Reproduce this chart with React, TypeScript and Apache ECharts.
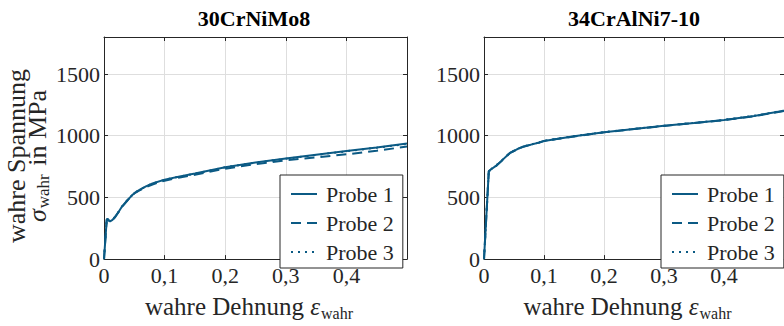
import React, { useEffect, useRef } from "react";
import * as echarts from "echarts";

// ---- data ----
const titles = ["30CrNiMo8", "34CrAlNi7-10"];
const probeNames = ["Probe 1", "Probe 2", "Probe 3"];
const yTicks = [0, 500, 1000, 1500];
const xTicks = [0, 0.1, 0.2, 0.3, 0.4];

const strainA = [0, 0.0045, 0.006, 0.008, 0.01, 0.014, 0.018, 0.025, 0.03, 0.04, 0.05, 0.06, 0.07, 0.08, 0.1, 0.125, 0.15, 0.2, 0.25, 0.3, 0.35, 0.4, 0.45, 0.5];
const stressA1 = [0, 320, 326, 312, 306, 318, 340, 390, 428, 485, 535, 566, 592, 613, 644, 670, 693, 745, 783, 815, 846, 877, 905, 937];
const stressA2 = [0, 318, 324, 310, 305, 317, 338, 388, 425, 482, 532, 560, 585, 605, 635, 662, 683, 733, 770, 800, 825, 849, 878, 912];
const stressA3 = [0, 322, 327, 313, 307, 319, 341, 391, 429, 486, 536, 565, 591, 612, 643, 669, 692, 744, 782, 813, 844, 874, 903, 934];

const strainB = [0, 0.008, 0.012, 0.021, 0.03, 0.043, 0.055, 0.065, 0.08, 0.092, 0.1, 0.15, 0.2, 0.25, 0.3, 0.35, 0.4, 0.45, 0.5];
const stressB1 = [0, 713, 728, 760, 800, 860, 890, 911, 930, 945, 958, 995, 1028, 1055, 1080, 1103, 1127, 1160, 1203];
const stressB2 = [0, 711, 727, 758, 798, 858, 889, 910, 929, 944, 957, 994, 1027, 1054, 1079, 1102, 1126, 1158, 1200];
const stressB3 = [0, 715, 730, 762, 802, 861, 891, 912, 931, 946, 959, 996, 1029, 1056, 1081, 1104, 1128, 1161, 1204];

const LINE = "#0b5a84";
const INK = "#262626";
const GRID = "#dedede";
const SERIF = "'Liberation Serif', 'Times New Roman', serif";

const zip = (xs: number[], ys: number[]) => xs.map((x, i) => [x, ys[i]]);

export default function App() {
  const ref = useRef<HTMLDivElement>(null);
  useEffect(() => {
    if (!ref.current) return;
    const chart = echarts.init(ref.current, null, { renderer: "svg" });

    const grids = [
      { left: 104, top: 37, width: 303, height: 236 },
      { left: 484, top: 37, width: 303, height: 236 },
    ];

    const xAxes: any[] = [];
    const yAxes: any[] = [];
    grids.forEach((_, g) => {
      xAxes.push({
        type: "value",
        gridIndex: g,
        min: 0,
        max: 0.5,
        interval: 0.1,
        position: "bottom",
        axisLine: { show: true, onZero: false, lineStyle: { color: INK, width: 1 } },
        axisTick: { show: true, inside: true, length: 4, lineStyle: { color: INK } },
        splitLine: { show: true, lineStyle: { color: GRID, width: 1 } },
        axisLabel: {
          color: INK,
          fontFamily: SERIF,
          fontSize: 22,
          margin: 5,
          showMaxLabel: false,
          formatter: (v: number) =>
            xTicks.some((t) => Math.abs(t - v) < 1e-9) ? String(Math.round(v * 10) / 10).replace(".", ",") : "",
        },
        name: "{a|wahre Dehnung }{e|ε}{s|wahr}",
        nameLocation: "middle",
        nameGap: 25,
        nameTextStyle: {
          padding: [0, 13, 0, 0],
          rich: {
            a: { fontFamily: SERIF, fontSize: 25, color: INK, lineHeight: 24 },
            e: { fontFamily: SERIF, fontSize: 25, fontStyle: "italic", color: INK, lineHeight: 24 },
            s: { fontFamily: SERIF, fontSize: 16, color: INK, lineHeight: 10, padding: [14, 0, 0, 1] },
          },
        },
      });
      xAxes.push({
        type: "value",
        gridIndex: g,
        min: 0,
        max: 0.5,
        interval: 0.1,
        position: "top",
        axisLine: { show: true, onZero: false, lineStyle: { color: INK, width: 1 } },
        axisTick: { show: true, inside: true, length: 4, lineStyle: { color: INK } },
        splitLine: { show: false },
        axisLabel: { show: false },
      });
      yAxes.push({
        type: "value",
        gridIndex: g,
        min: 0,
        max: 1800,
        interval: 500,
        position: "left",
        axisLine: { show: true, onZero: false, lineStyle: { color: INK, width: 1 } },
        axisTick: { show: true, inside: true, length: 4, lineStyle: { color: INK } },
        splitLine: { show: true, lineStyle: { color: GRID, width: 1 } },
        axisLabel: {
          color: INK,
          fontFamily: SERIF,
          fontSize: 22,
          margin: 4,
          showMaxLabel: false,
          formatter: (v: number) => (yTicks.includes(v) ? String(v) : ""),
        },
        ...(g === 0
          ? {
              name: "{a|wahre Spannung}\n{e|σ}{s|wahr}{a| in MPa}",
              nameLocation: "middle",
              nameRotate: 90,
              nameGap: 51,
              nameTextStyle: {
                padding: [0, 16, 0, 0],
                rich: {
                  a: { fontFamily: SERIF, fontSize: 26, color: INK, lineHeight: 21 },
                  e: { fontFamily: SERIF, fontSize: 26, fontStyle: "italic", color: INK, lineHeight: 21 },
                  s: { fontFamily: SERIF, fontSize: 17, color: INK, lineHeight: 9, padding: [12, 2, 0, 1] },
                },
              },
            }
          : {}),
      });
      yAxes.push({
        type: "value",
        gridIndex: g,
        min: 0,
        max: 1800,
        interval: 500,
        position: "right",
        axisLine: { show: true, onZero: false, lineStyle: { color: INK, width: 1 } },
        axisTick: { show: true, inside: true, length: 4, lineStyle: { color: INK } },
        splitLine: { show: false },
        axisLabel: { show: false },
      });
    });

    const dash = [{ type: "solid" }, { type: [10, 6] }, { type: [2, 5] }];
    const dataSets = [
      [zip(strainA, stressA1), zip(strainA, stressA2), zip(strainA, stressA3)],
      [zip(strainB, stressB1), zip(strainB, stressB2), zip(strainB, stressB3)],
    ];
    const series: any[] = [];
    dataSets.forEach((sets, g) => {
      sets.forEach((d, i) => {
        series.push({
          type: "line",
          name: probeNames[i],
          xAxisIndex: g * 2,
          yAxisIndex: g * 2,
          data: d,
          symbol: "none",
          showSymbol: false,
          clip: true,
          z: 3 - i,
          lineStyle: { color: LINE, width: 2, ...dash[i] },
          itemStyle: { color: LINE },
        });
      });
    });

    const legendBase = {
      orient: "vertical",
      top: 175,
      data: probeNames,
      itemWidth: 26,
      itemHeight: 14,
      itemGap: 7,
      padding: [8, 9, 5, 10],
      borderColor: INK,
      borderWidth: 1,
      borderRadius: 0,
      backgroundColor: "#ffffff",
      selectedMode: false,
      itemStyle: { opacity: 0 },
      formatter: (n: string) => `{p|${n}}`,
      textStyle: {
        fontFamily: SERIF,
        fontSize: 22,
        color: INK,
        lineHeight: 22,
        rich: { p: { fontFamily: SERIF, fontSize: 22, color: INK, lineHeight: 22, padding: [0, 0, 0, 4] } },
      },
    };

    const titleStyle = { fontFamily: SERIF, fontWeight: "bold", fontSize: 22, color: "#000", lineHeight: 22 };

    chart.setOption({
      animation: false,
      backgroundColor: "#ffffff",
      title: [
        { text: titles[0], left: 249, top: 2, textAlign: "center", textStyle: titleStyle },
        { text: titles[1], left: 629, top: 2, textAlign: "center", textStyle: titleStyle },
      ],
      legend: [
        { ...legendBase, left: 280 },
        { ...legendBase, left: 661 },
      ],
      grid: grids,
      xAxis: xAxes,
      yAxis: yAxes,
      series,
    });
    return () => chart.dispose();
  }, []);
  return <div ref={ref} style={{ position: "fixed", left: 0, top: 0, width: 784, height: 326 }} />;
}
